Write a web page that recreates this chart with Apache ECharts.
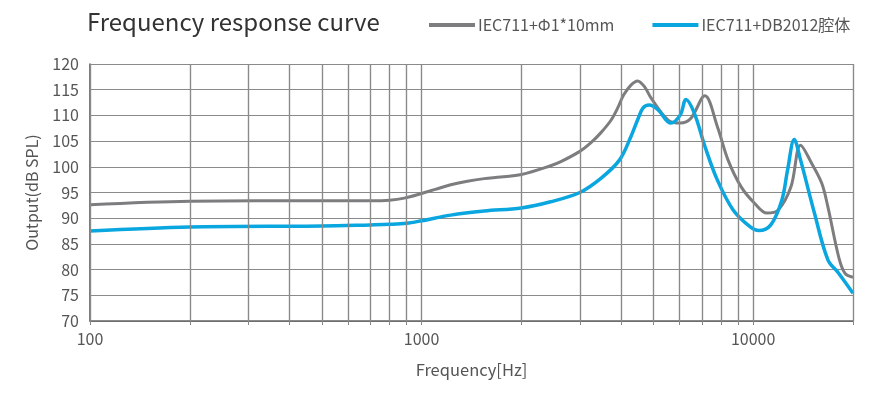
<!DOCTYPE html>
<html>
<head>
<meta charset="utf-8">
<script src="https://cdn.jsdelivr.net/npm/echarts@6/dist/echarts.min.js"></script>
<style>
  html, body { margin: 0; padding: 0; background: #fff; }
  #main { width: 887px; height: 398px; }
</style>
</head>
<body>
<div id="main"></div>
<script>
// frequency (Hz) and output (dB SPL)
var grayFreq = [100, 200, 500, 700, 800, 887, 1000, 1100, 1224, 1374, 1545, 1732, 2000, 2450, 2630, 3000, 3230, 3470, 3730, 3900, 4070, 4280, 4480, 4700, 4930, 5540, 6030, 6480, 7150, 7800, 8400, 9200, 10100, 11000, 11900, 13000, 13900, 15000, 16100, 16800, 18100, 18900, 20000];
var grayVal  = [92.6, 93.3, 93.4, 93.4, 93.5, 93.9, 94.8, 95.6, 96.5, 97.2, 97.7, 98.0, 98.5, 100.2, 101.0, 103.0, 104.6, 106.6, 109.1, 111.4, 114.0, 115.9, 116.7, 115.6, 113.3, 109.1, 108.5, 109.4, 113.8, 107.8, 101.3, 96.1, 92.9, 91.0, 91.6, 96.1, 104.2, 100.7, 96.8, 92.2, 82.5, 79.3, 78.5];

var blueFreq = [100, 200, 500, 700, 800, 900, 1000, 1224, 1545, 2000, 2450, 3000, 3480, 3950, 4280, 4480, 4650, 4860, 5160, 5640, 6030, 6270, 6640, 7150, 7800, 8700, 9800, 10400, 11300, 12200, 12700, 13300, 13900, 15300, 16800, 18100, 20000];
var blueVal  = [87.5, 88.3, 88.5, 88.7, 88.8, 89.0, 89.5, 90.6, 91.4, 92.0, 93.2, 95.0, 97.8, 101.3, 105.9, 109.1, 111.4, 112.0, 111.1, 108.5, 110.1, 113.1, 110.5, 104.0, 97.4, 91.6, 88.3, 87.6, 88.7, 93.5, 99.4, 105.3, 101.3, 91.0, 81.9, 79.3, 75.4];

var gridFreq = [100, 200, 300, 400, 500, 600, 700, 800, 900, 1000, 2000, 3000, 4000, 5000, 6000, 7000, 8000, 9000, 10000, 20000];
var labelFreq = [100, 1000, 10000];
var seriesNames = ['IEC711+Φ1*10mm', 'IEC711+DB2012腔体'];

function pairs(xs, ys) {
  return xs.map(function (x, i) { return [x, ys[i]]; });
}

var font = '"Noto Sans CJK SC", "Noto Sans", sans-serif';
var chart = echarts.init(document.getElementById('main'));

chart.setOption({
  animation: false,
  textStyle: { fontFamily: font },
  title: {
    text: 'Frequency response curve',
    left: 82, top: 5,
    textStyle: { fontFamily: font, fontSize: 24, fontWeight: 'normal', color: '#333' }
  },
  legend: {
    left: 424, top: 12, icon: 'rect',
    itemWidth: 46, itemHeight: 4, itemGap: 38,
    textStyle: { fontFamily: font, fontSize: 16, color: '#555', padding: [0, 0, 0, -2] },
    data: seriesNames
  },
  grid: { left: 90, right: 34, top: 64, bottom: 77 },
  xAxis: {
    type: 'log', logBase: 10, min: 100, max: 20000,
    name: 'Frequency[Hz]', nameLocation: 'middle', nameGap: 40,
    nameTextStyle: { fontFamily: font, fontSize: 16.5, color: '#555' },
    axisLine: { lineStyle: { color: '#666', width: 1.5 } },
    axisTick: { show: true, length: 4, customValues: gridFreq, lineStyle: { color: '#888' } },
    axisLabel: {
      fontSize: 16, color: '#555', margin: 10,
      customValues: labelFreq,
      formatter: function (v) { return String(Math.round(v)); }
    },
    splitLine: { show: true, lineStyle: { color: '#8a8a8a', width: 1.2 } }
  },
  yAxis: {
    type: 'value', min: 70, max: 120, interval: 5,
    name: 'Output(dB SPL)', nameLocation: 'middle', nameGap: 50,
    nameTextStyle: { fontFamily: font, fontSize: 16, color: '#555' },
    axisLine: { show: true, lineStyle: { color: '#555', width: 1.5 } },
    axisTick: { show: false },
    axisLabel: { fontSize: 16, color: '#555', margin: 11 },
    splitLine: { show: true, lineStyle: { color: '#8a8a8a', width: 1.2 } }
  },
  series: [
    {
      name: seriesNames[0], type: 'line', data: pairs(grayFreq, grayVal),
      smooth: 0.35, symbol: 'none', z: 3,
      lineStyle: { color: '#7d7d7f', width: 3 },
      itemStyle: { color: '#7d7d7f' },
      markLine: {
        silent: true, symbol: 'none', label: { show: false },
        lineStyle: { color: '#8a8a8a', width: 1.2, type: 'solid' },
        data: gridFreq.map(function (f) { return { xAxis: f }; })
      }
    },
    {
      name: seriesNames[1], type: 'line', data: pairs(blueFreq, blueVal),
      smooth: 0.35, symbol: 'none', z: 4,
      lineStyle: { color: '#0aa6df', width: 3.5 },
      itemStyle: { color: '#0aa6df' }
    }
  ]
});
</script>
</body>
</html>
